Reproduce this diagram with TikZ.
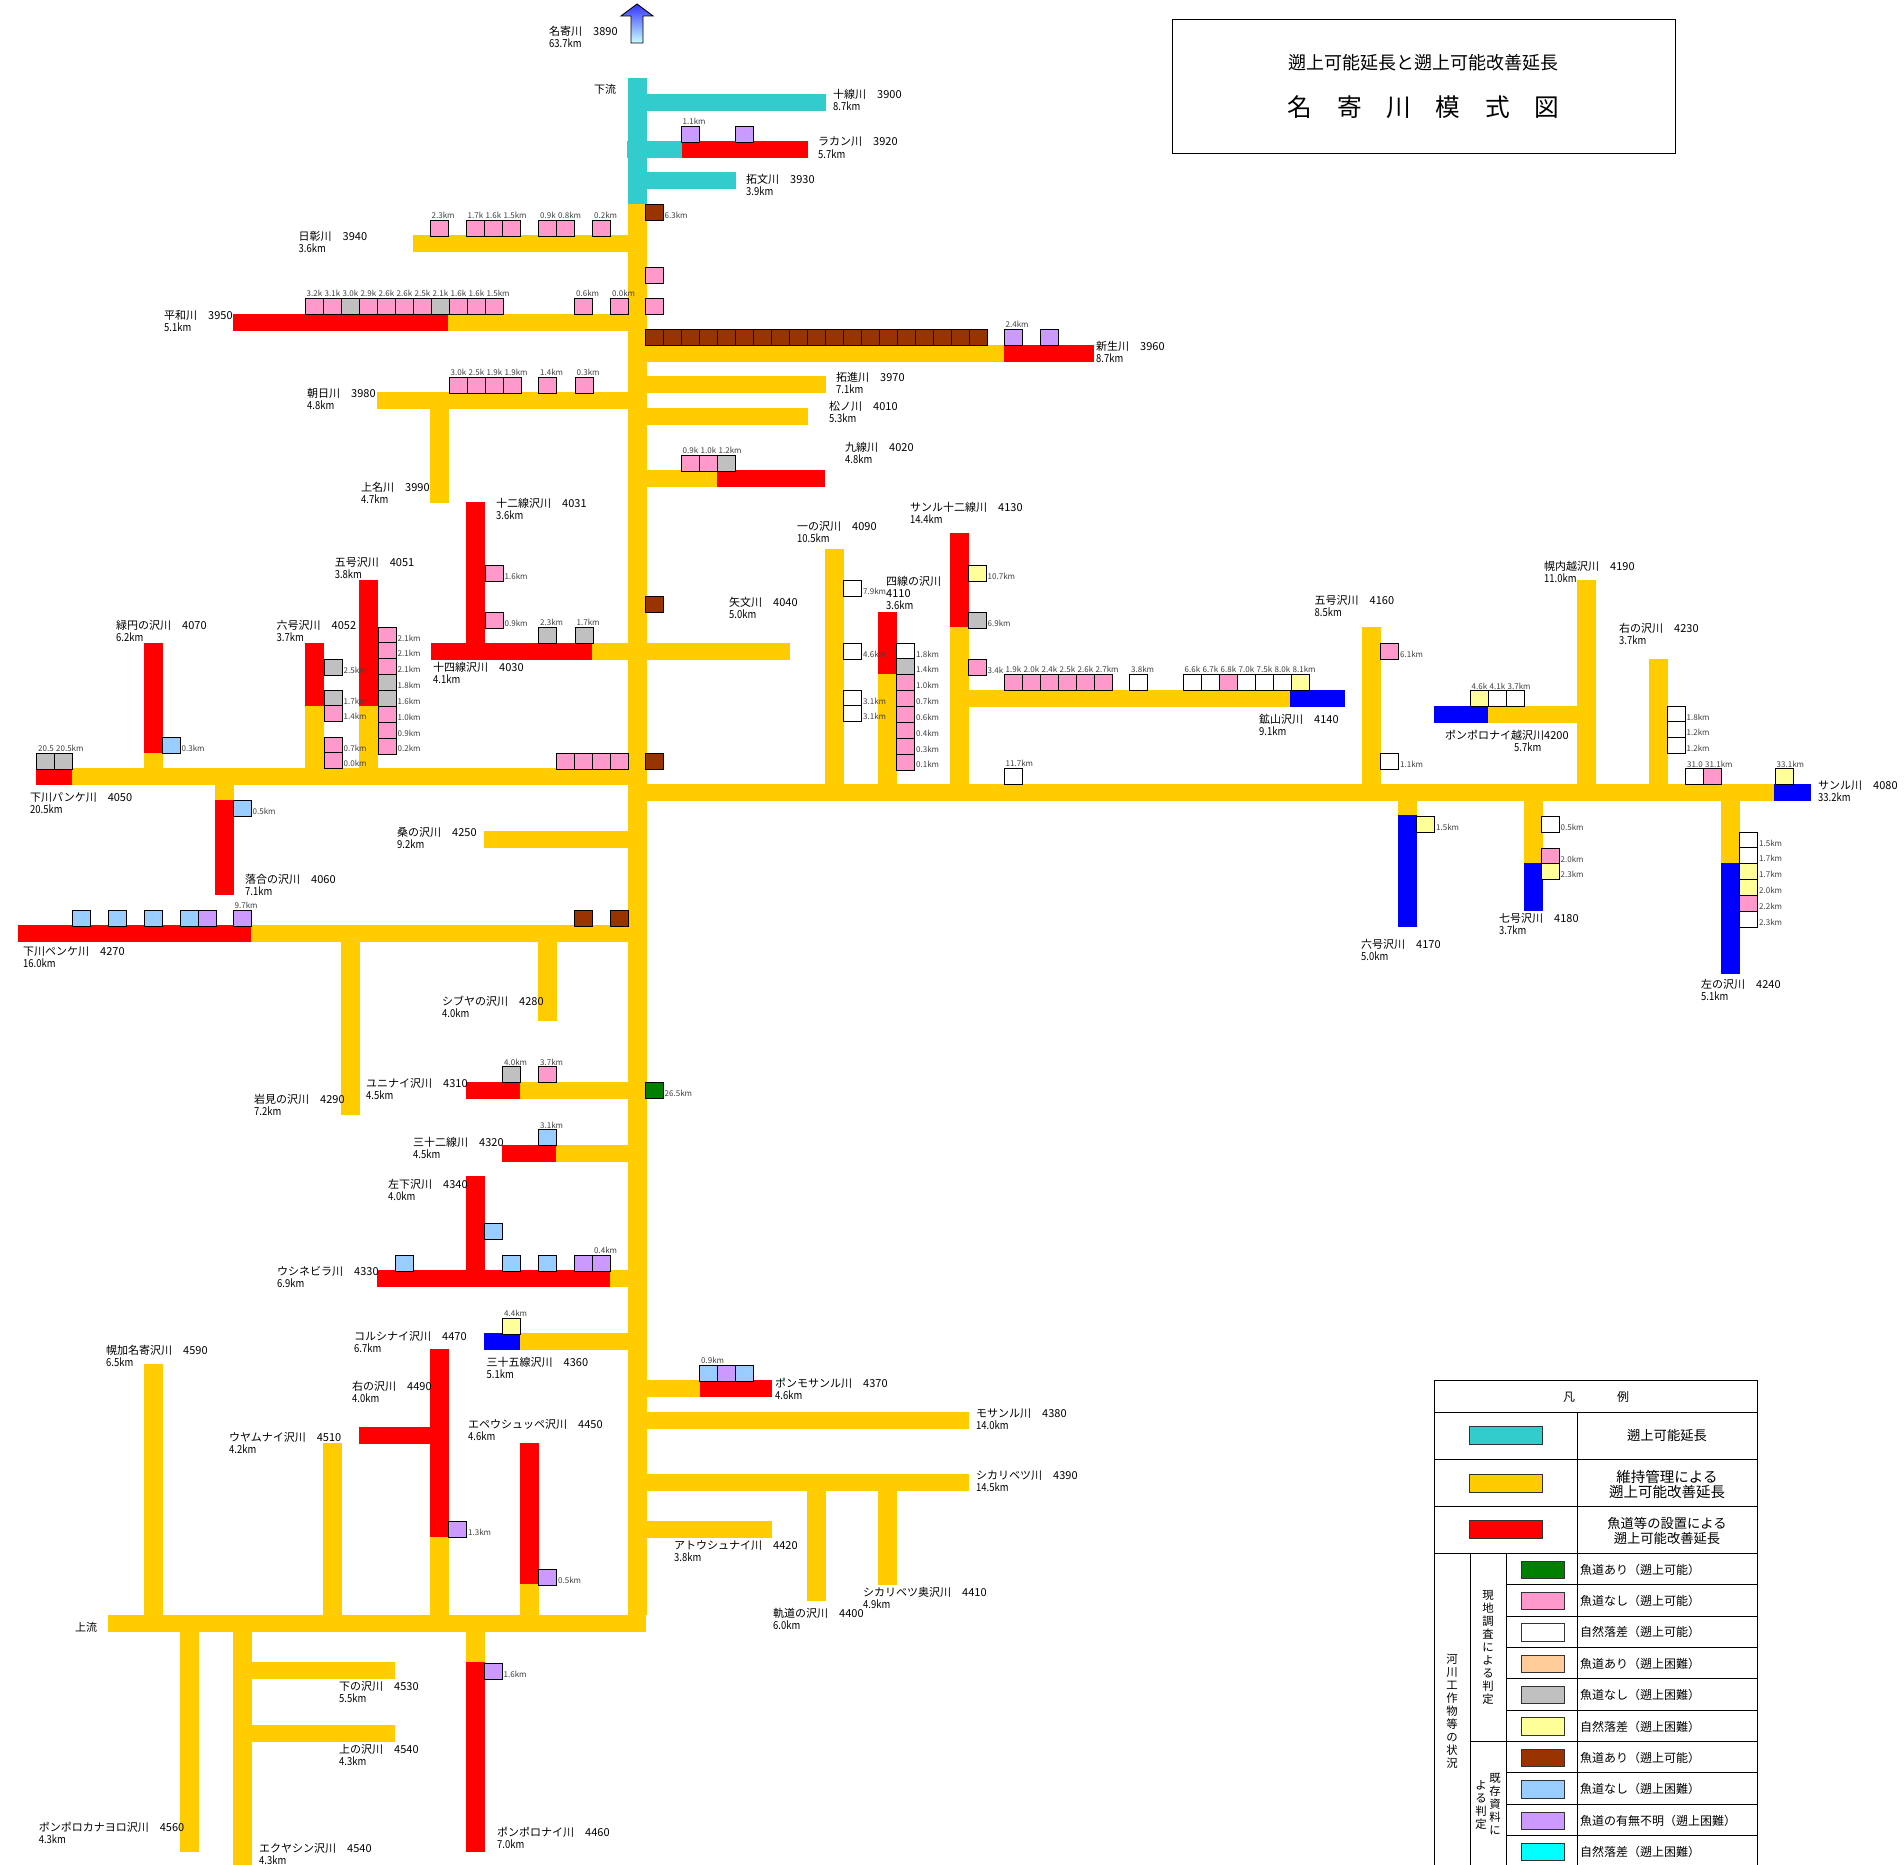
\documentclass[tikz,border=0pt]{standalone}
\usepackage{fontspec}
\setmainfont{Noto Sans CJK JP}
\newfontfamily\kmfont[FakeStretch=0.86]{Noto Sans CJK JP}
\definecolor{cTeal}{HTML}{33CCCC}
\definecolor{cYel}{HTML}{FFCC00}
\definecolor{cRed}{HTML}{FF0000}
\definecolor{cBlu}{HTML}{0000FF}
\definecolor{pk}{HTML}{FF99CC}
\definecolor{gy}{HTML}{C0C0C0}
\definecolor{ly}{HTML}{FFFF99}
\definecolor{br}{HTML}{993300}
\definecolor{lb}{HTML}{99CCFF}
\definecolor{pu}{HTML}{CC99FF}
\definecolor{gn}{HTML}{008000}
\definecolor{pe}{HTML}{FFCC99}
\definecolor{cy}{HTML}{00FFFF}
\definecolor{wh}{HTML}{FFFFFF}
\newcounter{nid}
\tikzset{
  nametext/.style={anchor=base west,inner sep=0pt,font=\fontsize{11}{12}\selectfont},
  kmtext/.style={anchor=base west,inner sep=0pt,font=\kmfont\fontsize{11}{12}\selectfont},
  smalltext/.style={anchor=base west,inner sep=0pt,text=black!75,font=\fontsize{8}{9}\selectfont},
  legtext/.style={inner sep=0pt,align=center},
  sqbox/.style={draw=black,line width=0.9pt},
  legline/.style={draw=black,line width=0.9pt},
  swatch/.style={draw=black!80,line width=0.9pt}
}
\newcommand\Rv[5]{\fill[#5] (#1,#2) rectangle (#3,#4);}
\newcommand\Sq[3]{\filldraw[sqbox,fill=#3] (#1,#2) rectangle ({#1+18},{#2+16});}
\newcommand\Tx[3]{\stepcounter{nid}\node[smalltext] (t\thenid) at ({#1},{#2}) {#3};}
\newcommand\SqT[4]{\Sq{#1}{#2}{#3}\Tx{#1+1.5}{#2-1.5}{#4}}
\newcommand\SqR[4]{\Sq{#1}{#2}{#3}\Tx{#1+19.5}{#2+14}{#4}}
\newcommand\RowT[3]{\foreach \c/\t [count=\i from 0] in {#3} {\SqT{#1+18*\i}{#2}{\c}{\t}}}
\newcommand\ColR[3]{\foreach \c/\t [count=\i from 0] in {#3} {\SqR{#1}{#2+15.85*\i}{\c}{\t}}}
\newcommand\Nm[5]{\stepcounter{nid}\node[nametext] (n\thenid a) at (#1,{#2+5}) {#3};\node[kmtext] (n\thenid b) at (#4,{#2+17}) {#5};}
\newcommand\One[3]{\stepcounter{nid}\node[nametext] (n\thenid) at (#1,{#2+5}) {#3};}
\newcommand\LegS[5]{\fill[black!25] ({#1+1},{#2+1}) rectangle ({#3+1},{#4+1});\filldraw[swatch,fill=#5] (#1,#2) rectangle (#3,#4);}
\begin{document}
\begin{tikzpicture}[x=1pt,y=-1pt]
\useasboundingbox (0,0) rectangle (1904,1865);
\fill[white] (0,0) rectangle (1904,1865);
% main stem
\Rv{628}{78}{647}{204}{cTeal}
\Rv{628}{204}{647}{1615}{cYel}
\shadedraw[top color=blue!80!white,bottom color=cyan!20!white,draw=black,line width=0.9pt]
  (637,4) -- (653,16) -- (643,16) -- (643,43) -- (631,43) -- (631,16) -- (621,16) -- cycle;
% teal branches
\Rv{646}{94}{826}{111}{cTeal}
\Rv{627}{141}{682}{158}{cTeal}\Rv{682}{141}{808}{158}{cRed}
\Rv{646}{172}{736}{189}{cTeal}
% left/right branches, upper
\Rv{413}{235}{628}{252}{cYel}
\Rv{233}{314}{448}{331}{cRed}\Rv{448}{314}{628}{331}{cYel}
\Rv{646}{345}{1004}{362}{cYel}\Rv{1004}{345}{1094}{362}{cRed}
\Rv{646}{376}{826}{393}{cYel}
\Rv{377}{392}{628}{409}{cYel}
\Rv{646}{408}{808}{425}{cYel}
\Rv{646}{470}{717}{487}{cYel}\Rv{717}{470}{825}{487}{cRed}
\Rv{430}{409}{449}{503}{cYel}
\Rv{466}{502}{485}{643}{cRed}
\Rv{431}{643}{592}{660}{cRed}\Rv{592}{643}{628}{660}{cYel}
\Rv{646}{643}{790}{660}{cYel}
\Rv{359}{580}{378}{706}{cRed}\Rv{359}{706}{378}{768}{cYel}
\Rv{305}{643}{324}{706}{cRed}\Rv{305}{706}{324}{768}{cYel}
\Rv{144}{643}{163}{753}{cRed}\Rv{144}{753}{163}{768}{cYel}
\Rv{36}{768}{72}{785}{cRed}\Rv{72}{768}{628}{785}{cYel}
\Rv{215}{785}{234}{800}{cYel}\Rv{215}{800}{234}{895}{cRed}
\Rv{484}{831}{645}{848}{cYel}
\Rv{18}{925}{251}{942}{cRed}\Rv{251}{925}{645}{942}{cYel}
\Rv{341}{942}{360}{1115}{cYel}
\Rv{538}{942}{557}{1021}{cYel}
\Rv{466}{1082}{520}{1099}{cRed}\Rv{520}{1082}{646}{1099}{cYel}
\Rv{502}{1145}{556}{1162}{cRed}\Rv{556}{1145}{646}{1162}{cYel}
\Rv{466}{1176}{485}{1270}{cRed}
\Rv{377}{1270}{610}{1287}{cRed}\Rv{610}{1270}{646}{1287}{cYel}
\Rv{484}{1333}{520}{1350}{cBlu}\Rv{520}{1333}{646}{1350}{cYel}
\Rv{430}{1349}{449}{1537}{cRed}\Rv{430}{1537}{449}{1615}{cYel}
\Rv{359}{1427}{430}{1444}{cRed}
\Rv{323}{1443}{342}{1615}{cYel}
\Rv{144}{1364}{163}{1615}{cYel}
\Rv{520}{1443}{539}{1584}{cRed}\Rv{520}{1584}{539}{1615}{cYel}
\Rv{108}{1615}{646}{1632}{cYel}
\Rv{180}{1632}{199}{1852}{cYel}
\Rv{233}{1632}{252}{1865}{cYel}
\Rv{252}{1662}{395}{1679}{cYel}
\Rv{252}{1725}{395}{1742}{cYel}
\Rv{466}{1632}{485}{1662}{cYel}\Rv{466}{1662}{485}{1852}{cRed}
\Rv{646}{1380}{700}{1397}{cYel}\Rv{700}{1380}{772}{1397}{cRed}
\Rv{646}{1412}{969}{1429}{cYel}
\Rv{646}{1474}{969}{1491}{cYel}
\Rv{807}{1491}{826}{1601}{cYel}
\Rv{878}{1491}{897}{1585}{cYel}
\Rv{646}{1521}{772}{1538}{cYel}
% Sanru river
\Rv{646}{784}{1774}{801}{cYel}\Rv{1774}{784}{1811}{801}{cBlu}
\Rv{825}{549}{844}{784}{cYel}
\Rv{878}{612}{897}{674}{cRed}\Rv{878}{674}{897}{784}{cYel}
\Rv{950}{533}{969}{627}{cRed}\Rv{950}{627}{969}{784}{cYel}
\Rv{969}{690}{1290}{707}{cYel}\Rv{1290}{690}{1345}{707}{cBlu}
\Rv{1362}{627}{1381}{784}{cYel}
\Rv{1577}{580}{1596}{784}{cYel}
\Rv{1434}{706}{1488}{723}{cBlu}\Rv{1488}{706}{1577}{723}{cYel}
\Rv{1649}{659}{1668}{784}{cYel}
\Rv{1398}{801}{1417}{815}{cYel}\Rv{1398}{815}{1417}{927}{cBlu}
\Rv{1524}{801}{1543}{863}{cYel}\Rv{1524}{863}{1543}{911}{cBlu}
\Rv{1721}{801}{1740}{863}{cYel}\Rv{1721}{863}{1740}{974}{cBlu}
% squares
\RowT{430}{220}{pk/2.3km}
\RowT{466}{220}{pk/1.7k,pk/1.6k,pk/1.5km}
\RowT{538.5}{220}{pk/0.9k,pk/0.8km}
\RowT{592.5}{220}{pk/0.2km}
\RowT{305}{298}{pk/3.2k,pk/3.1k,gy/3.0k,pk/2.9k,pk/2.6k,pk/2.6k,pk/2.5k,gy/2.1k,pk/1.6k,pk/1.6k,pk/1.5km}
\RowT{574.5}{298}{pk/0.6km}
\RowT{610.5}{298}{pk/0.0km}
\RowT{449}{377}{pk/3.0k,pk/2.5k,pk/1.9k,pk/1.9km}
\RowT{538.5}{377}{pk/1.4km}
\RowT{575}{377}{pk/0.3km}
\SqR{645}{204}{br}{6.3km}
\Sq{645}{267}{pk}
\Sq{645}{298}{pk}
\foreach \i in {0,...,18} {\Sq{645+18*\i}{329}{br}}
\RowT{1004}{329}{pu/2.4km}
\Sq{1040}{329}{pu}
\RowT{681}{126}{pu/1.1km}
\Sq{735}{126}{pu}
\RowT{681}{455}{pk/0.9k,pk/1.0k,gy/1.2km}
\ColR{485}{565}{pk/1.6km}
\ColR{485}{612}{pk/0.9km}
\RowT{538.5}{627}{gy/2.3km}
\RowT{575}{627}{gy/1.7km}
\Sq{645}{596}{br}
\Sq{645}{753}{br}
\ColR{378}{627}{pk/2.1km,pk/2.1km,pk/2.1km,gy/1.8km,gy/1.6km,pk/1.0km,pk/0.9km,pk/0.2km}
\ColR{324}{659}{gy/2.5km}
\ColR{324}{690}{gy/1.7km,pk/1.4km}
\ColR{324}{737}{pk/0.7km,pk/0.0km}
\ColR{162}{737}{lb/0.3km}
\RowT{36.5}{753}{gy/20.5,gy/20.5km}
\foreach \i in {0,1,2,3} {\Sq{556+18*\i}{753}{pk}}
\ColR{233}{800}{lb/0.5km}
\Sq{72.5}{910}{lb}\Sq{108.5}{910}{lb}\Sq{144.5}{910}{lb}\Sq{180.5}{910}{lb}\Sq{198}{910}{pu}
\RowT{233}{910}{pu/9.7km}
\Sq{574.5}{910}{br}\Sq{610.5}{910}{br}
\ColR{843.5}{580}{wh/7.9km}
\ColR{843.5}{643}{wh/4.6km}
\ColR{843.5}{690}{wh/3.1km,wh/3.1km}
\ColR{896.5}{643}{wh/1.8km,gy/1.4km,pk/1.0km,pk/0.7km,pk/0.6km,pk/0.4km,pk/0.3km,pk/0.1km}
\ColR{968}{565}{ly/10.7km}
\ColR{968}{612}{gy/6.9km}
\ColR{968}{659}{pk/3.4k}
\RowT{1004}{674}{pk/1.9k,pk/2.0k,pk/2.4k,pk/2.5k,pk/2.6k,pk/2.7km}
\RowT{1129.5}{674}{wh/3.8km}
\RowT{1183}{674}{wh/6.6k,wh/6.7k,pk/6.8k,wh/7.0k,wh/7.5k,wh/8.0k,ly/8.1km}
\RowT{1004}{768}{wh/11.7km}
\ColR{1380.5}{643}{pk/6.1km}
\ColR{1380.5}{753}{wh/1.1km}
\RowT{1470}{690.5}{ly/4.6k,wh/4.1k,wh/3.7km}
\ColR{1667}{706}{wh/1.8km,wh/1.2km,wh/1.2km}
\RowT{1685.5}{768.5}{wh/31.0,pk/31.1km}
\RowT{1775}{768.5}{ly/33.1km}
\ColR{1416.5}{816}{ly/1.5km}
\ColR{1541}{816}{wh/0.5km}
\ColR{1541}{848}{pk/2.0km,ly/2.3km}
\ColR{1739.5}{832}{wh/1.5km,wh/1.7km,ly/1.7km,ly/2.0km,pk/2.2km,wh/2.3km}
\RowT{502.5}{1066.5}{gy/4.0km}
\RowT{538.5}{1066.5}{pk/3.7km}
\ColR{645}{1082}{gn/26.5km}
\RowT{538.5}{1129.5}{lb/3.1km}
\Sq{484}{1223}{lb}
\Sq{395}{1255}{lb}\Sq{502.5}{1255}{lb}\Sq{538.5}{1255}{lb}\Sq{574.5}{1255}{pu}
\RowT{592.5}{1255}{pu/0.4km}
\RowT{502.5}{1318}{ly/4.4km}
\ColR{448.5}{1521}{pu/1.3km}
\ColR{538.5}{1569}{pu/0.5km}
\ColR{484}{1663}{pu/1.6km}
\RowT{699.5}{1365}{lb/0.9km}
\Sq{717.5}{1365}{pu}\Sq{735.5}{1365}{lb}
% names
\Nm{549}{31}{名寄川　3890}{549}{63.7km}
\One{594}{89}{下流}
\Nm{833}{94}{十線川　3900}{833}{8.7km}
\Nm{818}{141}{ラカン川　3920}{818}{5.7km}
\Nm{746}{178}{拓文川　3930}{746}{3.9km}
\Nm{298.5}{235}{日彰川　3940}{298.5}{3.6km}
\Nm{164}{314}{平和川　3950}{164}{5.1km}
\Nm{1096}{345}{新生川　3960}{1096}{8.7km}
\Nm{836}{376}{拓進川　3970}{836}{7.1km}
\Nm{829}{405}{松ノ川　4010}{829}{5.3km}
\Nm{307}{392}{朝日川　3980}{307}{4.8km}
\Nm{845}{446}{九線川　4020}{845}{4.8km}
\Nm{361}{486}{上名川　3990}{361}{4.7km}
\Nm{496}{502}{十二線沢川　4031}{496}{3.6km}
\Nm{910}{506}{サンル十二線川　4130}{910}{14.4km}
\Nm{797}{525}{一の沢川　4090}{797}{10.5km}
\One{886}{580}{四線の沢川}
\Nm{886}{592}{4110}{886}{3.6km}
\Nm{729}{601}{矢文川　4040}{729}{5.0km}
\Nm{334.6}{561}{五号沢川　4051}{334.6}{3.8km}
\Nm{276.5}{624}{六号沢川　4052}{276.5}{3.7km}
\Nm{116}{624}{緑円の沢川　4070}{116}{6.2km}
\Nm{433}{666}{十四線沢川　4030}{433}{4.1km}
\Nm{30}{796}{下川パンケ川　4050}{30}{20.5km}
\Nm{397}{831}{桑の沢川　4250}{397}{9.2km}
\Nm{245}{878}{落合の沢川　4060}{245}{7.1km}
\Nm{23}{950}{下川ペンケ川　4270}{23}{16.0km}
\Nm{442}{1000}{シブヤの沢川　4280}{442}{4.0km}
\Nm{366}{1082}{ユニナイ沢川　4310}{366}{4.5km}
\Nm{254}{1098}{岩見の沢川　4290}{254}{7.2km}
\Nm{413}{1141}{三十二線川　4320}{413}{4.5km}
\Nm{388}{1183}{左下沢川　4340}{388}{4.0km}
\Nm{277}{1270}{ウシネビラ川　4330}{277}{6.9km}
\Nm{354}{1335}{コルシナイ沢川　4470}{354}{6.7km}
\Nm{486.5}{1361}{三十五線沢川　4360}{486.5}{5.1km}
\Nm{106}{1349}{幌加名寄沢川　4590}{106}{6.5km}
\Nm{352}{1385}{右の沢川　4490}{352}{4.0km}
\Nm{229}{1436}{ウヤムナイ沢川　4510}{229}{4.2km}
\Nm{468}{1423}{エペウシュッペ沢川　4450}{468}{4.6km}
\One{75}{1626}{上流}
\Nm{339}{1685}{下の沢川　4530}{339}{5.5km}
\Nm{339}{1748}{上の沢川　4540}{339}{4.3km}
\Nm{38.6}{1826}{ポンポロカナヨロ沢川　4560}{38.6}{4.3km}
\Nm{259}{1847}{エクヤシン沢川　4540}{259}{4.3km}
\Nm{497}{1831}{ポンポロナイ川　4460}{497}{7.0km}
\Nm{775}{1382}{ポンモサンル川　4370}{775}{4.6km}
\Nm{976}{1412}{モサンル川　4380}{976}{14.0km}
\Nm{976}{1474}{シカリベツ川　4390}{976}{14.5km}
\Nm{674}{1544}{アトウシュナイ川　4420}{674}{3.8km}
\Nm{863}{1591}{シカリベツ奥沢川　4410}{863}{4.9km}
\Nm{773}{1612}{軌道の沢川　4400}{773}{6.0km}
\Nm{1314.5}{599}{五号沢川　4160}{1314.5}{8.5km}
\Nm{1544}{565}{幌内越沢川　4190}{1544}{11.0km}
\Nm{1619}{627}{右の沢川　4230}{1619}{3.7km}
\Nm{1259}{718}{鉱山沢川　4140}{1259}{9.1km}
\Nm{1445}{734}{ポンポロナイ越沢川4200}{1514}{5.7km}
\Nm{1818}{784}{サンル川　4080}{1818}{33.2km}
\Nm{1361}{943}{六号沢川　4170}{1361}{5.0km}
\Nm{1499}{917}{七号沢川　4180}{1499}{3.7km}
\Nm{1701}{983}{左の沢川　4240}{1701}{5.1km}
% title
\draw[black,line width=0.9pt] (1172.5,19) rectangle (1675,153);
\node[legtext,font=\fontsize{18}{18}\selectfont] (subtitle) at (1423.5,63) {遡上可能延長と遡上可能改善延長};
\node[legtext,font=\fontsize{24.7}{25}\selectfont] (maintitle) at (1423.5,107) {名　寄　川　模　式　図};
% legend
\draw[legline] (1434,1865) -- (1434,1380) -- (1757,1380) -- (1757,1865);
\foreach \y in {1412,1459,1506,1553} {\draw[legline] (1434,\y) -- (1757,\y);}
\draw[legline] (1577,1412) -- (1577,1865);
\draw[legline] (1470,1553) -- (1470,1865);
\draw[legline] (1506,1553) -- (1506,1865);
\foreach \y in {1584,1616,1647,1678,1710,1772,1804,1835} {\draw[legline] (1506,\y) -- (1757,\y);}
\draw[legline] (1470,1741) -- (1757,1741);
\LegS{1469}{1426}{1542}{1444}{cTeal}
\LegS{1469}{1474}{1542}{1492}{cYel}
\LegS{1469}{1520}{1542}{1538}{cRed}
\LegS{1521}{1561}{1564}{1578}{gn}
\LegS{1521}{1592}{1564}{1609}{pk}
\LegS{1521}{1623}{1564}{1641}{wh}
\LegS{1521}{1655}{1564}{1672}{pe}
\LegS{1521}{1686}{1564}{1703}{gy}
\LegS{1521}{1717}{1564}{1735}{ly}
\LegS{1521}{1749}{1564}{1766}{br}
\LegS{1521}{1780}{1564}{1798}{lb}
\LegS{1521}{1812}{1564}{1829}{pu}
\LegS{1521}{1843}{1564}{1860}{cy}
\tikzset{legrow/.style={anchor=west,inner sep=0pt,font=\fontsize{12}{13}\selectfont}}
\node[legrow] (r1) at (1580,1570) {魚道あり（遡上可能）};
\node[legrow] (r2) at (1580,1601) {魚道なし（遡上可能）};
\node[legrow] (r3) at (1580,1632) {自然落差（遡上可能）};
\node[legrow] (r4) at (1580,1663.5) {魚道あり（遡上困難）};
\node[legrow] (r5) at (1580,1695) {魚道なし（遡上困難）};
\node[legrow] (r6) at (1580,1726.5) {自然落差（遡上困難）};
\node[legrow] (r7) at (1580,1758) {魚道あり（遡上可能）};
\node[legrow] (r8) at (1580,1789) {魚道なし（遡上困難）};
\node[legrow] (r9) at (1580,1820.5) {魚道の有無不明（遡上困難）};
\node[legrow] (r10) at (1580,1852) {自然落差（遡上困難）};
\node[legtext,font=\fontsize{12}{12}\selectfont] (leghead) at (1596,1397) {凡\hspace{42pt}例};
\node[legtext,font=\fontsize{13.3}{14}\selectfont] (lega) at (1667,1435.5) {遡上可能延長};
\node[legtext,font=\fontsize{14.5}{15}\selectfont] (legb) at (1667,1484) {維持管理による\\遡上可能改善延長};
\node[legtext,font=\fontsize{13.3}{15}\selectfont] (legc) at (1667,1531) {魚道等の設置による\\遡上可能改善延長};
\node[legtext,font=\fontsize{11.4}{13}\selectfont] (vtA) at (1452,1711) {河\\川\\工\\作\\物\\等\\の\\状\\況};
\node[legtext,font=\fontsize{11.4}{13}\selectfont] (vtB) at (1488,1647) {現\\地\\調\\査\\に\\よ\\る\\判\\定};
\node[legtext,font=\fontsize{11.4}{13}\selectfont] (vtC) at (1495,1804) {既\\存\\資\\料\\に};
\node[legtext,font=\fontsize{11.4}{13}\selectfont] (vtD) at (1481,1805) {よ\\る\\判\\定};
\end{tikzpicture}
\end{document}
